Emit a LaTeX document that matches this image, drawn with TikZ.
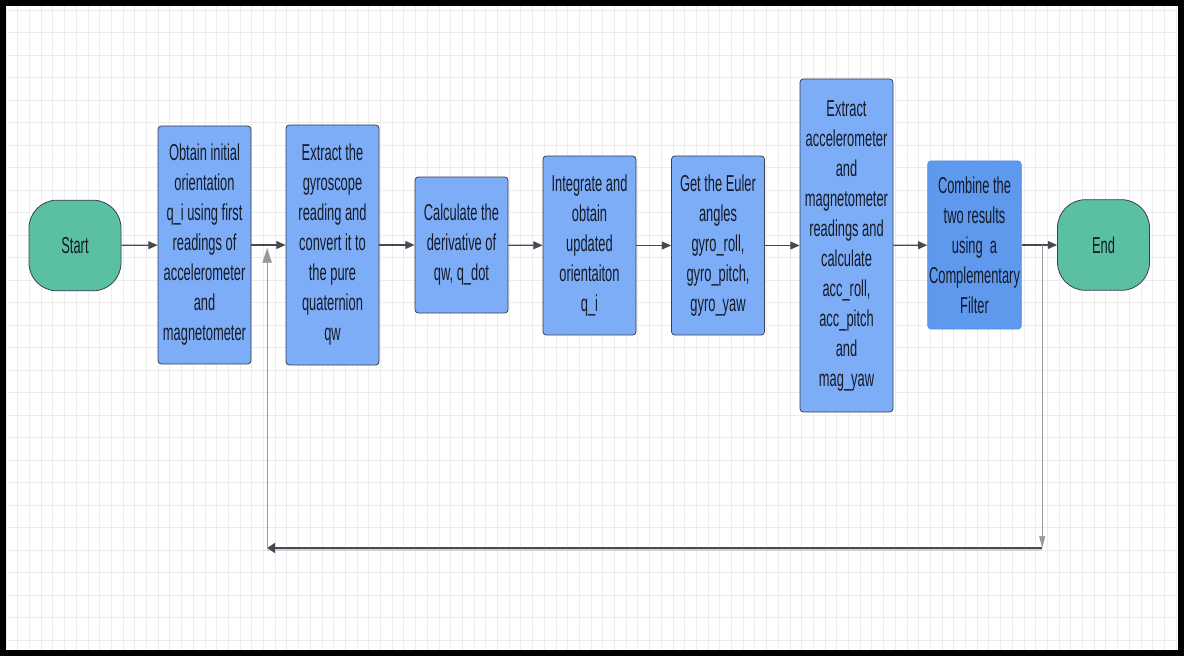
\documentclass[tikz,border=0pt]{standalone}
\usepackage{fontspec}
\setmainfont{Liberation Sans}[FakeStretch=0.56]
\usetikzlibrary{arrows.meta,calc}
\definecolor{procblue}{HTML}{7DADF7}
\definecolor{filtblue}{HTML}{5E99EE}
\definecolor{termteal}{HTML}{5BBFA2}
\definecolor{edgegray}{HTML}{3A4150}
\definecolor{textnavy}{HTML}{141A28}
\definecolor{flowgray}{HTML}{474A52}
\definecolor{gridgray}{HTML}{ECECEC}
\tikzset{
  boxfont/.style={font=\fontsize{17.25}{22.5}\selectfont, text=textnavy},
  procbox/.style={boxfont, draw=edgegray, fill=procblue, line width=0.6pt,
    rounded corners=2.5pt, align=center, inner sep=1pt, minimum width=69.75pt},
  filtbox/.style={procbox, draw=filtblue!90!black!60!filtblue, fill=filtblue},
  termbox/.style={boxfont, draw=edgegray, fill=termteal, line width=0.6pt,
    rounded corners=21pt, minimum width=69pt, minimum height=68pt},
  flow/.style={-{Triangle[length=7pt,width=6pt]}, draw=flowgray, line width=0.9pt},
  backflow/.style={draw=gray!80, line width=0.5pt},
}
\begin{document}
\begin{tikzpicture}[x=0.75pt,y=-0.75pt]
    \useasboundingbox (0,0) rectangle (1184,656);
    \fill[white] (0,0) rectangle (1184,656);
    \foreach \gx in {6,17.7,...,1178}
        \draw[gridgray, line width=0.5pt] (\gx,5) -- (\gx,650);
    \foreach \gy in {10,32.5,...,650}
        \draw[gridgray, line width=0.7pt] (5,\gy) -- (1178,\gy);
    \draw[black, line width=4.3pt] (2.8,2.8) rectangle (1181,653);

    \node[termbox] (start) at (75,245.5) {Start};
    \node[procbox, minimum height=178.5pt] (b1) at (204.5,245) {Obtain initial\\orientation\\q\_i using first\\readings of\\accelerometer\\and\\magnetometer};
    \node[procbox, minimum height=180pt] (b2) at (332.5,245) {Extract the\\gyroscope\\reading and\\convert it to\\the pure\\quaternion\\qw};
    \node[procbox, minimum height=102pt] (b3) at (461.5,245) {Calculate the\\derivative of\\qw, q\_dot};
    \node[procbox, minimum height=134.25pt] (b4) at (589.5,245.5) {Integrate and\\obtain\\updated\\orientaiton\\q\_i};
    \node[procbox, minimum height=134.25pt] (b5) at (718,245.5) {Get the Euler\\angles\\gyro\_roll,\\gyro\_pitch,\\gyro\_yaw};
    \node[procbox, minimum height=249.75pt] (b6) at (846.5,245.5) {Extract\\accelerometer\\and\\magnetometer\\readings and\\calculate\\acc\_roll,\\acc\_pitch\\and\\mag\_yaw};
    \node[filtbox, minimum height=126pt] (b7) at (974.5,245) {Combine the\\two results\\using\ \ a\\Complementary\\Filter};
    \node[termbox] (end) at (1103.5,245) {End};

    \draw[flow] (start) -- (b1);
    \draw[flow] (b1) -- (b2);
    \draw[flow] (b2) -- (b3);
    \draw[flow] (b3) -- (b4);
    \draw[flow] (b4) -- (b5);
    \draw[flow] (b5) -- (b6);
    \draw[flow] (b6) -- (b7);
    \draw[flow] (b7) -- (end);

    \coordinate (fbtop) at ($(b7.east)!0.58!(end.west)$);
    \coordinate (fbright) at (fbtop |- 0,548);
    \coordinate (fbin) at ($(b1.east)!0.46!(b2.west)$);
    \coordinate (fbleft) at (fbin |- 0,548);
    \draw[backflow, -{Triangle[length=9pt,width=4.5pt]}] (fbtop) -- (fbright);
    \draw[gray!35, line width=1.6pt] ($(fbright)+(0,2)$) -- ($(fbleft)+(0,2)$);
    \draw[-{Triangle[length=6pt,width=7.5pt]}, draw=flowgray, line width=1.4pt] (fbright) -- (fbleft);
    \draw[backflow, -{Triangle[length=11pt,width=7pt]}, line width=0.6pt] (fbleft) -- ($(fbin)+(0,3)$);
\end{tikzpicture}
\end{document}
